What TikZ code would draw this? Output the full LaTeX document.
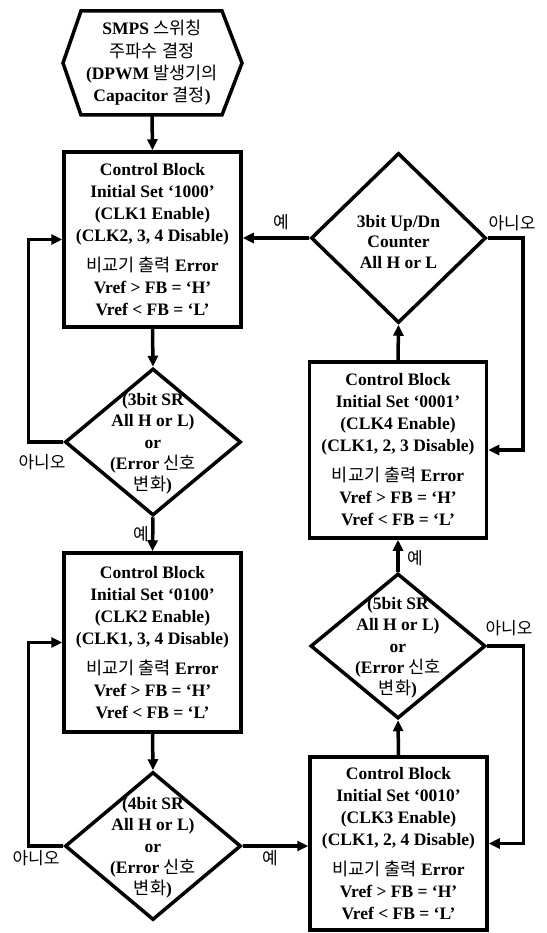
\documentclass[tikz,border=0pt]{standalone}
\usepackage{fontspec}
\setmainfont{Liberation Serif}
\newfontfamily\krfont{Noto Sans CJK KR}
\usetikzlibrary{arrows.meta,shapes.geometric}
\newcommand\K[1]{{\krfont\mdseries #1}}
\begin{document}
\begin{tikzpicture}[x=1pt,y=-1pt, line width=3.5pt,
  every node/.style={font=\fontsize{17.5}{22}\selectfont\bfseries},
  box/.style={draw, rectangle, minimum width=177pt, inner sep=0pt, align=center},
  dia/.style={draw, diamond, inner sep=0pt},
  txt/.style={align=center, inner sep=0pt, font=\fontsize{17.5}{21.3}\selectfont\bfseries},
  lbl/.style={font=\fontsize{17}{20}\selectfont\krfont, inner sep=0pt},
  arr/.style={-{Triangle[length=11pt,width=10pt]}}]
\useasboundingbox (0,0) rectangle (546,933);

% start hexagon
\draw (63,63) -- (81,11) -- (222,11) -- (242,63) -- (222,115) -- (81,115) -- cycle;
\node[txt, font=\fontsize{17.5}{22.3}\selectfont\bfseries] (h) at (152,63) {SMPS \K{스위칭}\\\K{주파수 결정}\\(DPWM \K{발생기의}\\Capacitor \K{결정})};
\coordinate (hb) at (152,115);

% boxes
\node[box, minimum height=175pt] (b1) at (152.5,239.5) {Control Block\\Initial Set ‘1000’\\(CLK1 Enable)\\(CLK2, 3, 4 Disable)\\[8pt]\K{비교기 출력} Error\\Vref > FB = ‘H’\\Vref < FB = ‘L’};
\node[box, minimum height=179pt] (b2) at (152.5,642.5) {Control Block\\Initial Set ‘0100’\\(CLK2 Enable)\\(CLK1, 3, 4 Disable)\\[8pt]\K{비교기 출력} Error\\Vref > FB = ‘H’\\Vref < FB = ‘L’};
\node[box, minimum height=173pt] (b3) at (398.5,843.5) {Control Block\\Initial Set ‘0010’\\(CLK3 Enable)\\(CLK1, 2, 4 Disable)\\[8pt]\K{비교기 출력} Error\\Vref > FB = ‘H’\\Vref < FB = ‘L’};
\node[box, minimum height=176pt] (b4) at (398,450) {Control Block\\Initial Set ‘0001’\\(CLK4 Enable)\\(CLK1, 2, 3 Disable)\\[8pt]\K{비교기 출력} Error\\Vref > FB = ‘H’\\Vref < FB = ‘L’};

% diamonds
\node[dia, minimum width=176pt, minimum height=147pt] (d1) at (153,442) {};
\node[txt] (t1) at (153,444) {(3bit SR\\All H or L)\\or\\(Error \K{신호}\\\K{변화})};
\node[dia, minimum width=176pt, minimum height=148pt] (d2) at (153,846) {};
\node[txt] (t2) at (153,848) {(4bit SR\\All H or L)\\or\\(Error \K{신호}\\\K{변화})};
\node[dia, minimum width=175pt, minimum height=145pt] (d3) at (398,646) {};
\node[txt] (t3) at (398,648) {(5bit SR\\All H or L)\\or\\(Error \K{신호}\\\K{변화})};
\node[dia, minimum width=175pt, minimum height=170pt] (d4) at (398.5,238) {};
\node[txt, font=\fontsize{17.5}{20.5}\selectfont\bfseries] (t4) at (398.5,242) {3bit Up/Dn\\Counter\\All H or L};

% connectors
\draw[arr] (hb) -- (b1.north);
\draw[arr] (b1.south) -- (d1.north);
\draw[arr] (d1.west) -- ++(-35,0) |- (b1.west);
\draw[arr] (d1.south) -- (b2.north);
\draw[arr] (b2.south) -- (d2.north);
\draw[arr] (d2.west) -- ++(-35,0) |- (b2.west);
\draw[arr] (d2.east) -- (d2.east -| b3.west);
\draw[arr] (b3.north) -- (d3.south);
\draw[arr] (d3.east) -- ++(36,0) |- (b3.east);
\draw[arr] (d3.north) -- (b4.south);
\draw[arr] (b4.north) -- (d4.south);
\draw[arr] (d4.east) -- ++(35,0) |- (b4.east);
\draw[arr] (d4.west) -- (d4.west -| b1.east);

% labels
\node[lbl] (n1) at (42,462) {아니오};
\node[lbl] (y1) at (141,534) {예};
\node[lbl] (n2) at (36,858) {아니오};
\node[lbl] (y2) at (270,858) {예};
\node[lbl] (n3) at (509,628) {아니오};
\node[lbl] (y3) at (415,558) {예};
\node[lbl] (y4) at (281,222) {예};
\node[lbl] (n4) at (512,223) {아니오};
\end{tikzpicture}
\end{document}
